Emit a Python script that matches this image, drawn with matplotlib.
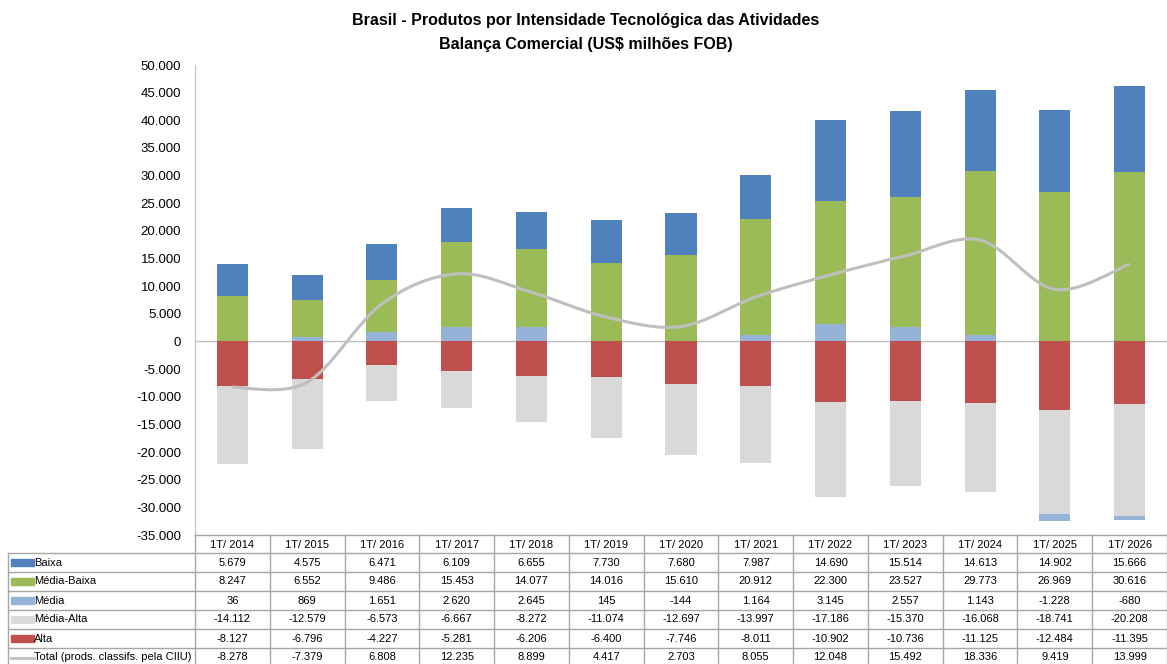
import matplotlib
matplotlib.use('Agg')
import matplotlib.pyplot as plt
from matplotlib.path import Path
from matplotlib.patches import PathPatch, Rectangle
from matplotlib.ticker import FuncFormatter
import numpy as np

plt.rcParams['font.family'] = ['Liberation Sans', 'DejaVu Sans']

periods = ['1T/ 2014', '1T/ 2015', '1T/ 2016', '1T/ 2017', '1T/ 2018', '1T/ 2019', '1T/ 2020',
           '1T/ 2021', '1T/ 2022', '1T/ 2023', '1T/ 2024', '1T/ 2025', '1T/ 2026']
baixa = [5679, 4575, 6471, 6109, 6655, 7730, 7680, 7987, 14690, 15514, 14613, 14902, 15666]
media_baixa = [8247, 6552, 9486, 15453, 14077, 14016, 15610, 20912, 22300, 23527, 29773, 26969, 30616]
media = [36, 869, 1651, 2620, 2645, 145, -144, 1164, 3145, 2557, 1143, -1228, -680]
media_alta = [-14112, -12579, -6573, -6667, -8272, -11074, -12697, -13997, -17186, -15370, -16068, -18741, -20208]
alta = [-8127, -6796, -4227, -5281, -6206, -6400, -7746, -8011, -10902, -10736, -11125, -12484, -11395]
total = [-8278, -7379, 6808, 12235, 8899, 4417, 2703, 8055, 12048, 15492, 18336, 9419, 13999]

row_names = ['Baixa', 'Média-Baixa', 'Média', 'Média-Alta', 'Alta', 'Total (prods. classifs. pela CIIU)']
colors = {'Baixa': '#4F81BD', 'Média-Baixa': '#9BBB59', 'Média': '#95B3D7',
          'Média-Alta': '#D9D9D9', 'Alta': '#C0504D'}

def fmt(v):
    return f'{v:,.0f}'.replace(',', '.')

W, H = 1167, 664
fig = plt.figure(figsize=(W / 100, H / 100), dpi=100)
x0, x1, ytop, ybot = 195, 1167, 65, 535
ax = fig.add_axes([x0 / W, 1 - ybot / H, (x1 - x0) / W, (ybot - ytop) / H])

x = np.arange(len(periods))
bw = 0.415
# Excel-like stacking: positives and negatives stacked separately
stack_order = [('Alta', alta), ('Média-Alta', media_alta), ('Média', media),
               ('Média-Baixa', media_baixa), ('Baixa', baixa)]
pos = np.zeros(len(x))
neg = np.zeros(len(x))
for name, vals in stack_order:
    v = np.array(vals, dtype=float)
    bottom = np.where(v >= 0, pos, neg)
    ax.bar(x, v, bw, bottom=bottom, color=colors[name], edgecolor='none', zorder=2)
    pos = pos + np.where(v >= 0, v, 0)
    neg = neg + np.where(v < 0, v, 0)

# smoothed total line (Bezier through the data points)
pts = np.column_stack([x, total]).astype(float)
verts = [tuple(pts[0])]
codes = [Path.MOVETO]
n = len(pts)
for i in range(n - 1):
    p0 = pts[i - 1] if i > 0 else pts[i]
    p1, p2 = pts[i], pts[i + 1]
    p3 = pts[i + 2] if i + 2 < n else pts[i + 1]
    c1 = p1 + (p2 - p0) / 6
    c2 = p2 - (p3 - p1) / 6
    verts += [tuple(c1), tuple(c2), tuple(p2)]
    codes += [Path.CURVE4] * 3
ax.add_patch(PathPatch(Path(verts, codes), facecolor='none', edgecolor='#BFBFBF', lw=2.2, zorder=3))

ax.set_xlim(-0.5, len(x) - 0.5)
ax.set_ylim(-35000, 50000)
ax.set_yticks(np.arange(-35000, 50001, 5000))
ax.yaxis.set_major_formatter(FuncFormatter(lambda v, p: fmt(v)))
ax.tick_params(axis='y', length=0, labelsize=9.5, pad=10)
ax.set_xticks([])
ax.axhline(0, color='#BFBFBF', lw=1, zorder=1)
for s in ['top', 'right', 'bottom']:
    ax.spines[s].set_visible(False)
ax.spines['left'].set_color('#BFBFBF')

fig.text(586 / W, 1 - 21 / H, 'Brasil - Produtos por Intensidade Tecnológica das Atividades',
         ha='center', va='center', fontsize=11.5, fontweight='bold')
fig.text(586 / W, 1 - 45 / H, 'Balança Comercial (US$ milhões FOB)',
         ha='center', va='center', fontsize=11.5, fontweight='bold')

# data table
tb = fig.add_axes([0, 0, 1, 1])
tb.set_xlim(0, W)
tb.set_ylim(H, 0)
tb.axis('off')
lc = '#A6A6A6'
lab_x = 8
cw = (x1 - x0) / len(periods)
hdr_top, hdr_bot, rh = ybot, 553, 19.0
row_tops = [hdr_bot + i * rh for i in range(len(row_names))]
# horizontal lines
tb.plot([x0, x1], [hdr_top, hdr_top], color=lc, lw=1)
for t in row_tops:
    tb.plot([lab_x, x1], [t, t], color=lc, lw=1)
# vertical lines
tb.plot([lab_x, lab_x], [hdr_bot, H], color=lc, lw=1)
for j in range(len(periods) + 1):
    xx = x0 + j * cw
    tb.plot([xx, xx], [hdr_top, H], color=lc, lw=1)
for j, p in enumerate(periods):
    tb.text(x0 + (j + 0.5) * cw, (hdr_top + hdr_bot) / 2 + 1, p, ha='center', va='center', fontsize=8)

series = [baixa, media_baixa, media, media_alta, alta, total]
for i, (name, vals) in enumerate(zip(row_names, series)):
    yc = row_tops[i] + rh / 2
    if name in colors:
        tb.add_patch(Rectangle((lab_x + 3, yc - 3.5), 23, 7, color=colors[name]))
    else:
        tb.plot([lab_x + 3, lab_x + 26], [yc, yc], color='#BFBFBF', lw=2)
    tb.text(lab_x + 26, yc, name, ha='left', va='center', fontsize=8)
    for j, v in enumerate(vals):
        tb.text(x0 + (j + 0.5) * cw, yc, fmt(v), ha='center', va='center', fontsize=8)

fig.savefig('out.png', dpi=100)
